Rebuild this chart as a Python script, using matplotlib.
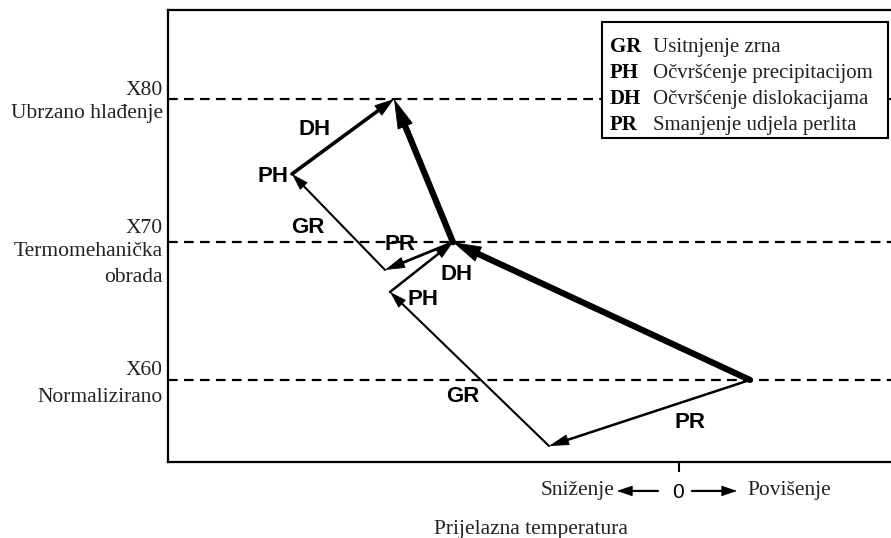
import matplotlib
matplotlib.use('Agg')
import matplotlib.pyplot as plt
from matplotlib.patches import Rectangle

plt.rcParams['lines.scale_dashes'] = False
serif = ['Liberation Serif', 'DejaVu Serif']
sans = ['Liberation Sans', 'DejaVu Sans']

# razine cvrstoce (y) i njihovi nazivi
levels = [60, 69.8, 80]
level_names = ['X60', 'X70', 'X80']
level_desc = [['Normalizirano'], ['Termomehanička', 'obrada'], ['Ubrzano hlađenje']]

# vrhovi: pomak prijelazne temperature (x) i cvrstoca (y)
pt_names = ['N', 'G', 'E', 'T', 'C', 'B', 'U']
pt_x = [7.1, -13.0, -28.9, -22.6, -29.4, -38.7, -28.5]
pt_y = [60.0, 55.3, 66.26, 69.8, 67.83, 74.66, 80.0]

# vektori (od, do)
arr_from = ['N', 'G', 'E', 'N', 'T', 'C', 'B', 'T']
arr_to = ['G', 'E', 'T', 'T', 'C', 'B', 'U', 'U']
arr_lw = [1.8, 1.5, 1.8, 4.5, 2.0, 1.5, 2.6, 4.5]
arr_head = [(1.3, 0.36), (1.1, 0.34), (1.2, 0.36), (1.9, 0.55),
            (1.3, 0.38), (1.1, 0.34), (1.3, 0.42), (2.0, 0.55)]

# oznake vektora
lab_text = ['DH', 'PH', 'GR', 'PR', 'DH', 'PH', 'GR', 'PR']
lab_x = [-36.4, -40.6, -37.1, -27.9, -22.2, -25.6, -21.6, 1.1]
lab_y = [77.79, 74.45, 70.82, 69.61, 67.47, 65.69, 58.79, 56.94]

legend_abbr = ['GR', 'PH', 'DH', 'PR']
legend_desc = ['Usitnjenje zrna', 'Očvršćenje precipitacijom',
               'Očvršćenje dislokacijama', 'Smanjenje udjela perlita']


def arrow(ax, p0, p1, lw, hl, hw, ms=10):
    # tijelo strelice (skraceno da ne viri iz vrha)
    ax.annotate('', xy=p1, xytext=p0, annotation_clip=False, zorder=3,
                arrowprops=dict(arrowstyle='-', lw=lw, color='black',
                                shrinkA=0, shrinkB=hl * ms * 0.6))
    # vrh strelice
    ax.annotate('', xy=p1, xytext=p0, annotation_clip=False, zorder=3,
                arrowprops=dict(arrowstyle=f'-|>,head_length={hl},head_width={hw}',
                                lw=0.6, color='black', shrinkA=0, shrinkB=0,
                                mutation_scale=ms))


fig = plt.figure(figsize=(8.91, 5.38), dpi=100)
ax = fig.add_axes([168/891, 76/538, 1 - 168/891, 452/538])
ax.set_xlim(-51.1, 21.2)
ax.set_ylim(54.16, 86.33)
for s in ['left', 'bottom', 'top']:
    ax.spines[s].set_linewidth(1.6)
ax.spines['right'].set_visible(False)
ax.set_xticks([0])
ax.set_xticklabels([])
ax.set_yticks([])
ax.tick_params(axis='x', direction='out', length=7, width=1.5)

# isprekidane razine
for lv in levels:
    ax.axhline(lv, color='black', lw=1.6, linestyle=(0, (7, 4.5)), zorder=1)

# lijeve oznake razina
name_off = [0.85, 1.14, 0.78]
desc_off = [-1.07, -0.5, -0.85]
for lv, nm, ds, no, do in zip(levels, level_names, level_desc, name_off, desc_off):
    ax.text(-51.6, lv + no, nm, ha='right', va='center_baseline', fontsize=15.5,
            family=serif, color='#222222', clip_on=False)
    for k, line in enumerate(ds):
        ax.text(-51.6, lv + do - 1.85 * k, line, ha='right', va='center_baseline',
                fontsize=15.5, family=serif, color='#222222', clip_on=False)

# vektori
for a, b, lw, (hl, hw) in zip(arr_from, arr_to, arr_lw, arr_head):
    i, j = pt_names.index(a), pt_names.index(b)
    arrow(ax, (pt_x[i], pt_y[i]), (pt_x[j], pt_y[j]), lw, hl, hw)

for t, x, y in zip(lab_text, lab_x, lab_y):
    ax.text(x, y, t, ha='center', va='center', fontsize=16, fontweight='bold',
            family=sans, zorder=4)

# legenda
ax.add_patch(Rectangle((-7.7, 77.22), 28.6, 8.26, fc='white', ec='black',
                       lw=1.5, zorder=5, clip_on=False))
for k, (ab, ds) in enumerate(zip(legend_abbr, legend_desc)):
    y = 83.84 - 1.85 * k
    ax.text(-6.9, y, ab, ha='left', va='center_baseline', fontsize=15,
            fontweight='bold', family=serif, zorder=6)
    ax.text(-2.6, y, ds, ha='left', va='center_baseline', fontsize=15,
            family=serif, color='#222222', zorder=6)

# os prijelazne temperature
ax.text(-6.4, 52.31, 'Sniženje', ha='right', va='center_baseline', fontsize=15.5,
        family=serif, color='#222222', clip_on=False)
ax.text(6.8, 52.31, 'Povišenje', ha='left', va='center_baseline', fontsize=15.5,
        family=serif, color='#222222', clip_on=False)
ax.text(-0.1, 52.0, '0', ha='center', va='center', fontsize=15,
        family=sans, clip_on=False)
arrow(ax, (-2.1, 52.1), (-6.2, 52.1), 1.6, 1.0, 0.34)
arrow(ax, (1.3, 52.1), (5.8, 52.1), 1.6, 1.0, 0.34)
ax.text(-14.8, 49.54, 'Prijelazna temperatura', ha='center', va='center_baseline',
        fontsize=15.5, family=serif, color='#222222', clip_on=False)

fig.savefig('out.png', dpi=100)
